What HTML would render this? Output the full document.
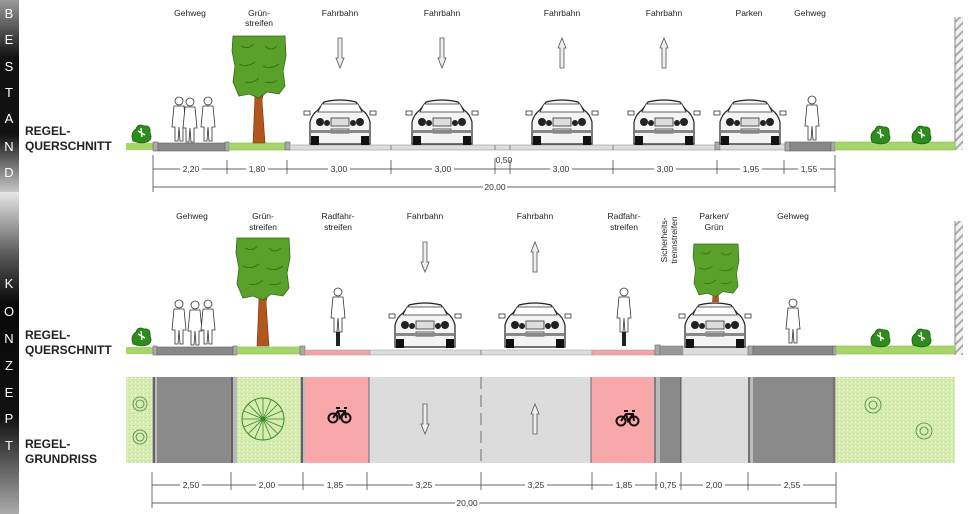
<!DOCTYPE html>
<html><head><meta charset="utf-8"><style>
html,body{margin:0;padding:0;background:#fff;}
svg{display:block}
text{font-family:"Liberation Sans",sans-serif;}
</style></head><body>
<svg width="973" height="514" viewBox="0 0 973 514" xmlns="http://www.w3.org/2000/svg">
<defs>
<linearGradient id="g1" x1="0" y1="0" x2="0" y2="1">
<stop offset="0" stop-color="#9a9a9a"/><stop offset="0.3" stop-color="#111"/><stop offset="0.7" stop-color="#111"/><stop offset="1" stop-color="#c8c8c8"/></linearGradient>
<linearGradient id="g2" x1="0" y1="0" x2="0" y2="1">
<stop offset="0" stop-color="#e8e8e8"/><stop offset="0.2" stop-color="#555"/><stop offset="0.35" stop-color="#080808"/><stop offset="0.7" stop-color="#111"/><stop offset="1" stop-color="#aaa"/></linearGradient>
<pattern id="hatch" width="6" height="6" patternUnits="userSpaceOnUse" patternTransform="rotate(45)"><rect width="6" height="6" fill="#f2f2f2"/><rect width="2" height="6" fill="#aaa"/></pattern>
<pattern id="grass" width="4" height="4" patternUnits="userSpaceOnUse"><rect width="4" height="4" fill="#d6ecb0"/><rect x="1" y="1" width="1" height="1" fill="#b6d98a"/><rect x="3" y="2" width="1" height="1" fill="#f0f8e4"/></pattern>
<g id="car">
<path d="M-30 44 L-30 22 Q-28 14 -22 10 L-16 2 Q0 -2 16 2 L22 10 Q28 14 30 22 L30 44 Z" fill="#f4f4f4" stroke="#222" stroke-width="1.2"/>
<path d="M-18 4 L18 4 L22 12 L-22 12 Z" fill="#fff" stroke="#333" stroke-width="0.8"/>
<rect x="-36" y="11" width="6" height="4" fill="#fff" stroke="#333" stroke-width="0.8"/><rect x="30" y="11" width="6" height="4" fill="#fff" stroke="#333" stroke-width="0.8"/>
<circle cx="-20" cy="22" r="4" fill="#222"/><circle cx="-13" cy="23" r="3" fill="#222"/><circle cx="20" cy="22" r="4" fill="#222"/><circle cx="13" cy="23" r="3" fill="#222"/>
<rect x="-9" y="18" width="18" height="8" fill="#ddd" stroke="#333" stroke-width="0.8"/>
<rect x="-9" y="29" width="18" height="4" fill="#fff" stroke="#333" stroke-width="0.8"/>
<rect x="-29" y="30" width="58" height="3" fill="#888"/>
<rect x="-29" y="36" width="8" height="9" fill="#111"/><rect x="21" y="36" width="8" height="9" fill="#111"/>
</g>
<g id="bush"><path d="M-8 8 Q-11 0 -5 -4 Q-3 -10 3 -7 Q10 -8 9 0 Q12 6 6 9 Q0 11 -8 8Z" fill="#2e8b1e" stroke="#1c5e10" stroke-width="0.8"/><path d="M-3 -2 L4 2 M0 -5 L1 4" stroke="#fff" stroke-width="1.3"/></g>
<g id="crown"><path d="M-26 0 L26 0 L27 20 L24 35 L26 50 L20 58 L8 56 L0 62 L-10 58 L-20 60 L-26 46 L-24 30 L-27 15 Z" fill="#5aa12c" stroke="#2f6a14" stroke-width="0.8"/><path d="M-18 10 Q-10 14 -6 8 M6 10 Q12 16 18 10 M-20 28 Q-12 32 -4 26 M4 30 Q12 34 20 28 M-14 46 Q-6 48 0 42 M6 46 Q14 48 18 44" stroke="#2f6a14" stroke-width="0.8" fill="none"/></g>
<g id="person" fill="#fff" stroke="#333" stroke-width="0.8"><circle cx="0" cy="-40" r="4"/><path d="M-5 -35 L5 -35 L7 -14 L4 -14 L4 0 L1 0 L0 -14 L-1 0 L-4 0 L-4 -14 L-7 -14 Z"/></g>
<g id="bike" fill="none" stroke="#111" stroke-width="2"><circle cx="-6" cy="3" r="4.5"/><circle cx="7" cy="3" r="4.5"/><path d="M-6 3 L-1 -4 L6 -4 L7 3 M-1 -4 L1 3 L6 -4 M-3 -7 L1 -7 M5 -7 L8 -7"/></g>
<g id="arrowD" fill="#eee" stroke="#555" stroke-width="0.8"><path d="M-2 0 L2 0 L2 20 L4 20 L0 30 L-4 20 L-2 20 Z"/></g>
<g id="arrowU" fill="#eee" stroke="#555" stroke-width="0.8"><path d="M-2 30 L2 30 L2 10 L4 10 L0 0 L-4 10 L-2 10 Z"/></g>
</defs>

<rect x="0" y="0" width="19" height="192" fill="url(#g1)"/>
<rect x="0" y="192" width="19" height="322" fill="url(#g2)"/>
<g fill="#fff" font-size="13" text-anchor="middle">
<text x="9" y="18">B</text><text x="9" y="44">E</text><text x="9" y="71">S</text><text x="9" y="97">T</text><text x="9" y="123">A</text><text x="9" y="151">N</text><text x="9" y="177">D</text>
<text x="9" y="288">K</text><text x="9" y="316">O</text><text x="9" y="343">N</text><text x="9" y="370">Z</text><text x="9" y="397">E</text><text x="9" y="423">P</text><text x="9" y="450">T</text>
</g>
<g font-size="12" font-weight="bold" fill="#222">
<text x="25" y="135">REGEL-</text><text x="25" y="150">QUERSCHNITT</text>
<text x="25" y="339">REGEL-</text><text x="25" y="354">QUERSCHNITT</text>
<text x="25" y="448">REGEL-</text><text x="25" y="463">GRUNDRISS</text>
</g>

<g font-size="8.5" fill="#222" text-anchor="middle">
<text x="190" y="16">Gehweg</text><text x="259" y="16">Grün-</text><text x="259" y="26">streifen</text>
<text x="340" y="16">Fahrbahn</text><text x="442" y="16">Fahrbahn</text><text x="562" y="16">Fahrbahn</text><text x="664" y="16">Fahrbahn</text>
<text x="749" y="16">Parken</text><text x="810" y="16">Gehweg</text>
</g>
<use href="#arrowD" x="340" y="38"/><use href="#arrowD" x="442" y="38"/><use href="#arrowU" x="562" y="38"/><use href="#arrowU" x="664" y="38"/>

<rect x="955" y="17" width="8" height="133" fill="url(#hatch)"/><line x1="955" y1="17" x2="955" y2="150" stroke="#888"/>

<rect x="126" y="143" width="27" height="7" fill="#a6d66a"/>
<rect x="153" y="142" width="5" height="9" fill="#aaa" stroke="#666" stroke-width="0.6"/>
<rect x="158" y="143" width="67" height="8" fill="#888" stroke="#666" stroke-width="0.6"/>
<rect x="225" y="142" width="4" height="9" fill="#aaa" stroke="#666" stroke-width="0.6"/>
<rect x="229" y="143" width="56" height="7" fill="#a6d66a" stroke="#8ab858" stroke-width="0.6"/>
<rect x="285" y="142" width="5" height="8" fill="#aaa" stroke="#666" stroke-width="0.6"/>
<rect x="290" y="145" width="425" height="5" fill="#ddd" stroke="#999" stroke-width="0.6"/>
<line x1="391" y1="145" x2="391" y2="150" stroke="#888"/><line x1="495" y1="145" x2="495" y2="150" stroke="#888"/><line x1="510" y1="145" x2="510" y2="150" stroke="#888"/><line x1="613" y1="145" x2="613" y2="150" stroke="#888"/>
<rect x="715" y="142" width="5" height="8" fill="#aaa" stroke="#666" stroke-width="0.6"/>
<rect x="720" y="144" width="65" height="6" fill="#ddd" stroke="#999" stroke-width="0.6"/>
<rect x="785" y="142" width="5" height="9" fill="#aaa" stroke="#666" stroke-width="0.6"/>
<rect x="790" y="142" width="41" height="9" fill="#888" stroke="#666" stroke-width="0.6"/>
<rect x="831" y="142" width="4" height="9" fill="#aaa" stroke="#666" stroke-width="0.6"/>
<rect x="835" y="142" width="120" height="8" fill="#a6d66a" stroke="#8ab858" stroke-width="0.6"/>

<use href="#bush" x="141" y="133"/><use href="#bush" x="880" y="134"/><use href="#bush" x="921" y="134"/>
<path d="M253 143 L255 95 L246 78 L250 77 L258 92 L262 82 L266 84 L262 100 L265 143 Z" fill="#b0561e" stroke="#7a3510" stroke-width="0.6"/>
<use href="#crown" x="259" y="36"/>
<use href="#person" x="179" y="141"/><use href="#person" x="190" y="142"/><use href="#person" x="208" y="141"/>
<use href="#person" x="812" y="140"/>
<use href="#car" x="340" y="100"/><use href="#car" x="442" y="100"/><use href="#car" x="562" y="100"/><use href="#car" x="664" y="100"/><use href="#car" x="750" y="100"/>

<g stroke="#333" stroke-width="0.7" fill="none">
<line x1="153" y1="169" x2="835" y2="169"/>
<line x1="153" y1="155" x2="153" y2="192"/><line x1="835" y1="155" x2="835" y2="192"/>
<line x1="153" y1="187" x2="835" y2="187"/>
<line x1="227" y1="160" x2="227" y2="174"/><line x1="287" y1="160" x2="287" y2="174"/><line x1="391" y1="160" x2="391" y2="174"/><line x1="495" y1="158" x2="495" y2="174"/><line x1="510" y1="160" x2="510" y2="174"/><line x1="613" y1="160" x2="613" y2="174"/><line x1="717" y1="160" x2="717" y2="174"/><line x1="784" y1="160" x2="784" y2="174"/>
</g>
<g font-size="8.5" fill="#333" text-anchor="middle">
<rect x="180" y="164" width="22" height="9" fill="#fff"/><text x="191" y="172">2,20</text>
<rect x="246" y="164" width="22" height="9" fill="#fff"/><text x="257" y="172">1,80</text>
<rect x="328" y="164" width="22" height="9" fill="#fff"/><text x="339" y="172">3,00</text>
<rect x="432" y="164" width="22" height="9" fill="#fff"/><text x="443" y="172">3,00</text>
<text x="504" y="163">0,50</text>
<rect x="550" y="164" width="22" height="9" fill="#fff"/><text x="561" y="172">3,00</text>
<rect x="654" y="164" width="22" height="9" fill="#fff"/><text x="665" y="172">3,00</text>
<rect x="740" y="164" width="22" height="9" fill="#fff"/><text x="751" y="172">1,95</text>
<rect x="798" y="164" width="22" height="9" fill="#fff"/><text x="809" y="172">1,55</text>
<rect x="483" y="182" width="24" height="9" fill="#fff"/><text x="495" y="190">20,00</text>
</g>

<g font-size="8.5" fill="#222" text-anchor="middle">
<text x="192" y="219">Gehweg</text><text x="263" y="219">Grün-</text><text x="263" y="230">streifen</text>
<text x="338" y="219">Radfahr-</text><text x="338" y="230">streifen</text>
<text x="425" y="219">Fahrbahn</text><text x="535" y="219">Fahrbahn</text>
<text x="624" y="219">Radfahr-</text><text x="624" y="230">streifen</text>
<text x="714" y="219">Parken/</text><text x="714" y="230">Grün</text><text x="793" y="219">Gehweg</text>
<text transform="translate(667,240) rotate(-90)">Sicherheits-</text><text transform="translate(677,240) rotate(-90)">trennstreifen</text>
</g>
<use href="#arrowD" x="425" y="242"/><use href="#arrowU" x="535" y="242"/>

<rect x="955" y="221" width="8" height="134" fill="url(#hatch)"/><line x1="955" y1="221" x2="955" y2="355" stroke="#888"/>

<rect x="126" y="347" width="27" height="7" fill="#a6d66a"/>
<rect x="153" y="346" width="4" height="9" fill="#aaa" stroke="#666" stroke-width="0.6"/>
<rect x="157" y="347" width="76" height="8" fill="#888" stroke="#666" stroke-width="0.6"/>
<rect x="233" y="346" width="4" height="9" fill="#aaa" stroke="#666" stroke-width="0.6"/>
<rect x="237" y="347" width="63" height="7" fill="#a6d66a" stroke="#8ab858" stroke-width="0.6"/>
<rect x="300" y="346" width="5" height="9" fill="#aaa" stroke="#666" stroke-width="0.6"/>
<rect x="305" y="350" width="65" height="5" fill="#f5a3a3" stroke="#999" stroke-width="0.5"/>
<rect x="370" y="350" width="222" height="5" fill="#ddd" stroke="#999" stroke-width="0.5"/>
<line x1="481" y1="350" x2="481" y2="355" stroke="#888"/>
<rect x="592" y="350" width="63" height="5" fill="#f5a3a3" stroke="#999" stroke-width="0.5"/>
<rect x="655" y="345" width="5" height="10" fill="#aaa" stroke="#666" stroke-width="0.6"/>
<rect x="660" y="346" width="23" height="9" fill="#999" stroke="#777" stroke-width="0.5"/>
<rect x="683" y="347" width="65" height="8" fill="#ddd" stroke="#999" stroke-width="0.5"/>
<rect x="748" y="346" width="5" height="9" fill="#aaa" stroke="#666" stroke-width="0.6"/>
<rect x="753" y="346" width="80" height="9" fill="#888" stroke="#666" stroke-width="0.6"/>
<rect x="833" y="346" width="3" height="9" fill="#aaa" stroke="#666" stroke-width="0.6"/>
<rect x="836" y="346" width="119" height="8" fill="#a6d66a" stroke="#8ab858" stroke-width="0.6"/>

<use href="#bush" x="141" y="336"/><use href="#bush" x="880" y="337"/><use href="#bush" x="921" y="337"/>
<path d="M257 346 L259 298 L250 280 L254 279 L262 294 L266 284 L270 286 L266 302 L269 346 Z" fill="#b0561e" stroke="#7a3510" stroke-width="0.6"/>
<use href="#crown" x="263" y="238"/>
<use href="#person" x="179" y="344"/><use href="#person" x="195" y="345"/><use href="#person" x="208" y="344"/>
<use href="#person" x="793" y="343"/>
<use href="#person" x="338" y="332"/><rect x="336" y="332" width="4" height="14" fill="#222"/>
<use href="#person" x="624" y="332"/><rect x="622" y="332" width="4" height="14" fill="#222"/>
<path d="M712 302 L714 280 L708 268 L712 267 L716 276 L720 268 L723 270 L718 282 L719 302 Z" fill="#b0561e"/>
<g transform="translate(716,244) scale(0.85)"><use href="#crown"/></g>
<use href="#car" x="425" y="303"/><use href="#car" x="535" y="303"/><use href="#car" x="715" y="303"/>

<rect x="126" y="377" width="26" height="86" fill="url(#grass)"/>
<g fill="none" stroke="#4a8a3a" stroke-width="0.8"><circle cx="140" cy="404" r="7"/><circle cx="140" cy="437" r="7"/><circle cx="140" cy="404" r="4"/><circle cx="140" cy="437" r="4"/></g>
<rect x="152" y="377" width="5" height="86" fill="#bbb"/><line x1="154" y1="377" x2="154" y2="463" stroke="#444" stroke-width="1.5"/>
<rect x="157" y="377" width="74" height="86" fill="#8a8a8a"/>
<rect x="231" y="377" width="6" height="86" fill="#bbb"/><line x1="232" y1="377" x2="232" y2="463" stroke="#444" stroke-width="1.5"/>
<rect x="237" y="377" width="63" height="86" fill="url(#grass)"/>
<circle cx="263" cy="419" r="21" fill="#d6ecb0" stroke="#3a8a2a" stroke-width="1"/>
<g stroke="#3a8a2a" stroke-width="0.8"><path d="M263 398 L263 440 M242 419 L284 419 M248 404 L278 434 M278 404 L248 434 M255 400 L271 438 M271 400 L255 438 M244 411 L282 427 M244 427 L282 411"/></g>
<rect x="300" y="377" width="5" height="86" fill="#bbb"/><line x1="302" y1="377" x2="302" y2="463" stroke="#444" stroke-width="1.5"/>
<rect x="305" y="377" width="64" height="86" fill="#f8a8a8"/>
<rect x="369" y="377" width="222" height="86" fill="#dcdcdc"/>
<line x1="369" y1="377" x2="369" y2="463" stroke="#555" stroke-width="0.8"/>
<line x1="481" y1="377" x2="481" y2="463" stroke="#555" stroke-width="0.8" stroke-dasharray="12,6"/>
<rect x="591" y="377" width="63" height="86" fill="#f8a8a8"/>
<line x1="591" y1="377" x2="591" y2="463" stroke="#555" stroke-width="0.8"/>
<rect x="654" y="377" width="6" height="86" fill="#bbb"/><line x1="655" y1="377" x2="655" y2="463" stroke="#444" stroke-width="1"/>
<rect x="660" y="377" width="21" height="86" fill="#8a8a8a"/>
<line x1="681" y1="377" x2="681" y2="463" stroke="#444" stroke-width="1"/>
<rect x="682" y="377" width="66" height="86" fill="#dcdcdc"/>
<rect x="748" y="377" width="5" height="86" fill="#bbb"/><line x1="749" y1="377" x2="749" y2="463" stroke="#444" stroke-width="1.2"/>
<rect x="753" y="377" width="80" height="86" fill="#8a8a8a"/>
<rect x="833" y="377" width="3" height="86" fill="#bbb"/><line x1="834" y1="377" x2="834" y2="463" stroke="#444" stroke-width="1.2"/>
<rect x="836" y="377" width="119" height="86" fill="url(#grass)"/>
<g fill="none" stroke="#4a8a3a" stroke-width="0.8"><circle cx="873" cy="405" r="8"/><circle cx="873" cy="405" r="4"/><circle cx="924" cy="431" r="8"/><circle cx="924" cy="431" r="4"/></g>
<use href="#bike" x="339" y="415"/><use href="#bike" x="627" y="418"/>
<use href="#arrowD" x="425" y="404"/><use href="#arrowU" x="535" y="404"/>

<g stroke="#333" stroke-width="0.7" fill="none">
<line x1="152" y1="485" x2="836" y2="485"/>
<line x1="152" y1="472" x2="152" y2="508"/><line x1="836" y1="472" x2="836" y2="508"/>
<line x1="152" y1="503" x2="836" y2="503"/>
<line x1="231" y1="472" x2="231" y2="490"/><line x1="303" y1="472" x2="303" y2="490"/><line x1="367" y1="472" x2="367" y2="490"/><line x1="481" y1="472" x2="481" y2="490"/><line x1="592" y1="472" x2="592" y2="490"/><line x1="656" y1="472" x2="656" y2="490"/><line x1="681" y1="472" x2="681" y2="490"/><line x1="748" y1="472" x2="748" y2="490"/>
</g>
<g font-size="8.5" fill="#333" text-anchor="middle">
<rect x="180" y="480" width="22" height="9" fill="#fff"/><text x="191" y="488">2,50</text>
<rect x="256" y="480" width="22" height="9" fill="#fff"/><text x="267" y="488">2,00</text>
<rect x="324" y="480" width="22" height="9" fill="#fff"/><text x="335" y="488">1,85</text>
<rect x="413" y="480" width="22" height="9" fill="#fff"/><text x="424" y="488">3,25</text>
<rect x="525" y="480" width="22" height="9" fill="#fff"/><text x="536" y="488">3,25</text>
<rect x="613" y="480" width="22" height="9" fill="#fff"/><text x="624" y="488">1,85</text>
<rect x="658" y="480" width="21" height="9" fill="#fff"/><text x="668" y="488">0,75</text>
<rect x="703" y="480" width="22" height="9" fill="#fff"/><text x="714" y="488">2,00</text>
<rect x="781" y="480" width="22" height="9" fill="#fff"/><text x="792" y="488">2,55</text>
<rect x="455" y="498" width="24" height="9" fill="#fff"/><text x="467" y="506">20,00</text>
</g>
</svg>
</body></html>
